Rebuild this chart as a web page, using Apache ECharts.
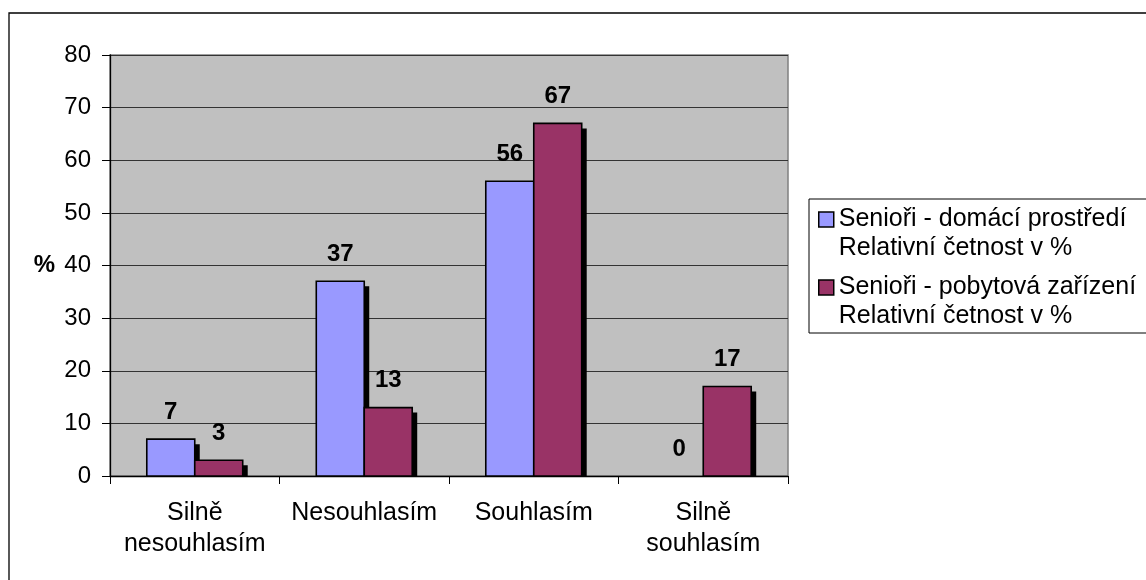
<!DOCTYPE html>
<html>
<head>
<meta charset="utf-8">
<script src="https://cdn.jsdelivr.net/npm/echarts@6/dist/echarts.min.js"></script>
<style>
  html, body { margin: 0; padding: 0; background: #fff; }
  #chart { width: 1146px; height: 580px; }
</style>
</head>
<body>
<div id="chart"></div>
<script>
// Survey answers: share of respondents (%) per answer category
const categories = ['Silně\nnesouhlasím', 'Nesouhlasím', 'Souhlasím', 'Silně\nsouhlasím'];
const homeValues = [7, 37, 56, 0];
const careValues = [3, 13, 67, 17];
const seriesNames = [
  'Senioři - domácí prostředí\nRelativní četnost v %',
  'Senioři - pobytová zařízení\nRelativní četnost v %'
];
const seriesColors = ['#9999ff', '#993366'];
const yTicks = { min: 0, max: 80, step: 10 };

const FONT = '"Liberation Sans", Arial, sans-serif';
const FS = 25;

// Bars with a hard black drop shadow that stops at the baseline
function barRenderer(slot) {
  return function (params, api) {
    const cat = api.value(0);
    const val = api.value(1);
    const base = api.coord([cat, 0]);
    const top = api.coord([cat, val]);
    const band = api.size([1, 0])[0];
    const w = band * 0.283;
    const x0 = slot === 0 ? base[0] - w : base[0];
    const h = base[1] - top[1];
    const children = [];
    if (h > 0) {
      const off = 5;
      children.push({
        type: 'rect',
        shape: { x: x0 + off, y: top[1] + off, width: w, height: Math.max(0, h - off) },
        style: { fill: '#000' }
      });
      children.push({
        type: 'rect',
        shape: { x: x0, y: top[1], width: w, height: h },
        style: { fill: seriesColors[slot], stroke: '#000', lineWidth: 1.6 }
      });
    }
    children.push({
      type: 'text',
      x: x0 + w / 2,
      y: top[1] - 27,
      style: {
        text: String(val),
        font: 'bold 24px ' + FONT,
        fill: '#000',
        align: 'center',
        verticalAlign: 'middle'
      }
    });
    return { type: 'group', children: children };
  };
}

const chart = echarts.init(document.getElementById('chart'), null, { renderer: 'canvas' });

chart.setOption({
  backgroundColor: '#fff',
  animation: false,
  textStyle: { fontFamily: FONT },
  graphic: [
    {
      type: 'rect', z: -10,
      shape: { x: 9, y: 13, width: 1300, height: 700 },
      style: { fill: 'none', stroke: '#000', lineWidth: 1.3 }
    },
    {
      type: 'rect', z: -10,
      shape: { x: 809, y: 199, width: 400, height: 134 },
      style: { fill: '#fff', stroke: '#000', lineWidth: 1 }
    }
  ],
  grid: {
    left: 110, top: 55, right: 358, bottom: 104,
    show: true,
    backgroundColor: '#c0c0c0',
    borderColor: '#808080',
    borderWidth: 1.5
  },
  legend: {
    orient: 'vertical',
    left: 818, top: 176,
    padding: 0,
    itemWidth: 15, itemHeight: 15,
    itemGap: -19,
    icon: 'rect',
    itemStyle: { borderColor: '#000', borderWidth: 1.5 },
    // a leading blank line keeps the swatch level with the first text line
    formatter: function (name) { return '\n' + name; },
    textStyle: {
      fontFamily: FONT, fontSize: FS, color: '#000',
      lineHeight: 29
    },
    data: seriesNames
  },
  xAxis: {
    type: 'category',
    data: categories,
    boundaryGap: true,
    axisLine: { lineStyle: { color: '#000', width: 1.3 } },
    axisTick: { show: true, length: 8, lineStyle: { color: '#000' } },
    axisLabel: {
      fontFamily: FONT, fontSize: FS, color: '#000',
      margin: 22, lineHeight: 31, interval: 0
    }
  },
  yAxis: {
    type: 'value',
    min: yTicks.min, max: yTicks.max, interval: yTicks.step,
    name: '%',
    nameLocation: 'middle',
    nameRotate: 0,
    nameGap: 55,
    nameTextStyle: { fontFamily: FONT, fontSize: 24, fontWeight: 'bold', color: '#000' },
    axisLine: { show: true, lineStyle: { color: '#000', width: 1.3 } },
    axisTick: { show: true, length: 8, lineStyle: { color: '#000' } },
    axisLabel: { fontFamily: FONT, fontSize: 24, color: '#000', margin: 19 },
    splitLine: { show: true, lineStyle: { color: '#333', width: 1 } }
  },
  series: [
    {
      name: seriesNames[0],
      type: 'custom',
      color: seriesColors[0],
      itemStyle: { color: seriesColors[0] },
      renderItem: barRenderer(0),
      data: homeValues.map((v, i) => [i, v])
    },
    {
      name: seriesNames[1],
      type: 'custom',
      color: seriesColors[1],
      itemStyle: { color: seriesColors[1] },
      renderItem: barRenderer(1),
      data: careValues.map((v, i) => [i, v])
    }
  ]
});
</script>
</body>
</html>
